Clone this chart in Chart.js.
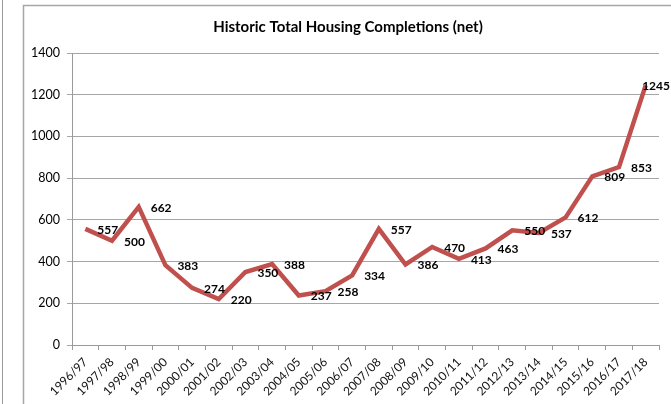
<!DOCTYPE html>
<html>
<head>
<meta charset="utf-8">
<script src="https://cdn.jsdelivr.net/npm/chart.js@4.4.1/dist/chart.umd.min.js"></script>
<style>
  html, body { margin: 0; padding: 0; background: #fff; }
  #wrap { width: 671px; height: 404px; position: relative; }
</style>
</head>
<body>
<div id="wrap"><canvas id="c" width="671" height="404"></canvas></div>
<script>
const titleText = 'Historic Total Housing Completions (net)';
const categories = ['1996/97','1997/98','1998/99','1999/00','2000/01','2001/02','2002/03','2003/04','2004/05','2005/06','2006/07','2007/08','2008/09','2009/10','2010/11','2011/12','2012/13','2013/14','2014/15','2015/16','2016/17','2017/18'];
const completions = [557, 500, 662, 383, 274, 220, 350, 388, 237, 258, 334, 557, 386, 470, 413, 463, 550, 537, 612, 809, 853, 1245];
const yTicks = [0, 200, 400, 600, 800, 1000, 1200, 1400];

const FONT = 'Lato, "Open Sans", sans-serif';

const framePlugin = {
  id: 'frame',
  beforeDraw(chart) {
    const ctx = chart.ctx;
    ctx.save();
    ctx.fillStyle = '#fff';
    ctx.fillRect(0, 0, chart.width, chart.height);
    ctx.strokeStyle = '#9a9a9a';
    ctx.lineWidth = 1;
    ctx.beginPath();
    ctx.moveTo(2.5, 0); ctx.lineTo(2.5, chart.height);
    ctx.stroke();
    ctx.strokeStyle = '#a6a6a6';
    ctx.lineWidth = 1.5;
    ctx.beginPath();
    ctx.moveTo(23.5, chart.height); ctx.lineTo(23.5, 5.5); ctx.lineTo(chart.width, 5.5);
    ctx.stroke();
    ctx.restore();
  },
  afterLayout(chart) {
    // centre the title on the outer chart frame (which runs past the right edge)
    const tb = chart.titleBlock;
    if (tb) { tb.left = 23; tb.right = 673; }
  }
};

const labelPlugin = {
  id: 'valueLabels',
  afterDatasetsDraw(chart) {
    const ctx = chart.ctx;
    const meta = chart.getDatasetMeta(0);
    const data = chart.data.datasets[0].data;
    ctx.save();
    ctx.font = 'bold 12px ' + FONT;
    ctx.fillStyle = '#000';
    ctx.textBaseline = 'middle';
    ctx.textAlign = 'left';
    meta.data.forEach((pt, i) => {
      const txt = String(data[i]);
      const w = ctx.measureText(txt).width;
      let x = pt.x + 12;
      if (x + w > chart.width - 1) x = chart.width - 1 - w;
      ctx.fillText(txt, x, pt.y + 1);
    });
    ctx.restore();
  }
};

new Chart(document.getElementById('c'), {
  type: 'line',
  data: {
    labels: categories,
    datasets: [{
      data: completions,
      borderColor: '#c0504d',
      borderWidth: 4.5,
      pointRadius: 0,
      tension: 0,
      fill: false,
      borderJoinStyle: 'miter'
    }]
  },
  options: {
    responsive: false,
    animation: false,
    devicePixelRatio: 1,
    layout: { padding: { left: 0, right: 12, top: 5, bottom: 0 } },
    plugins: {
      legend: { display: false },
      tooltip: { enabled: false },
      title: {
        display: true,
        text: titleText,
        color: '#000',
        font: { family: FONT, size: 15, weight: 'bold', lineHeight: 1.2 },
        padding: { top: 13, bottom: 17 }
      }
    },
    scales: {
      x: {
        type: 'category',
        offset: true,
        afterFit(s) { s.height = 59; },
        grid: { display: true, offset: true, drawOnChartArea: false, drawTicks: true, tickLength: 5, color: '#9a9a9a' },
        border: { display: true, color: '#9a9a9a', width: 1 },
        ticks: { color: '#111', font: { family: FONT, size: 12 }, minRotation: 45, maxRotation: 45, autoSkip: false, padding: 5 }
      },
      y: {
        min: 0, max: 1400,
        afterFit(s) { s.width = 72; },
        afterBuildTicks(s) { s.ticks = yTicks.map(v => ({ value: v })); },
        grid: { color: '#a6a6a6', lineWidth: 1, drawTicks: true, tickLength: 5 },
        border: { display: true, color: '#9a9a9a', width: 1 },
        ticks: { color: '#000', font: { family: FONT, size: 12.5 }, padding: 7, callback: v => String(v) }
      }
    }
  },
  plugins: [framePlugin, labelPlugin]
});
</script>
</body>
</html>
